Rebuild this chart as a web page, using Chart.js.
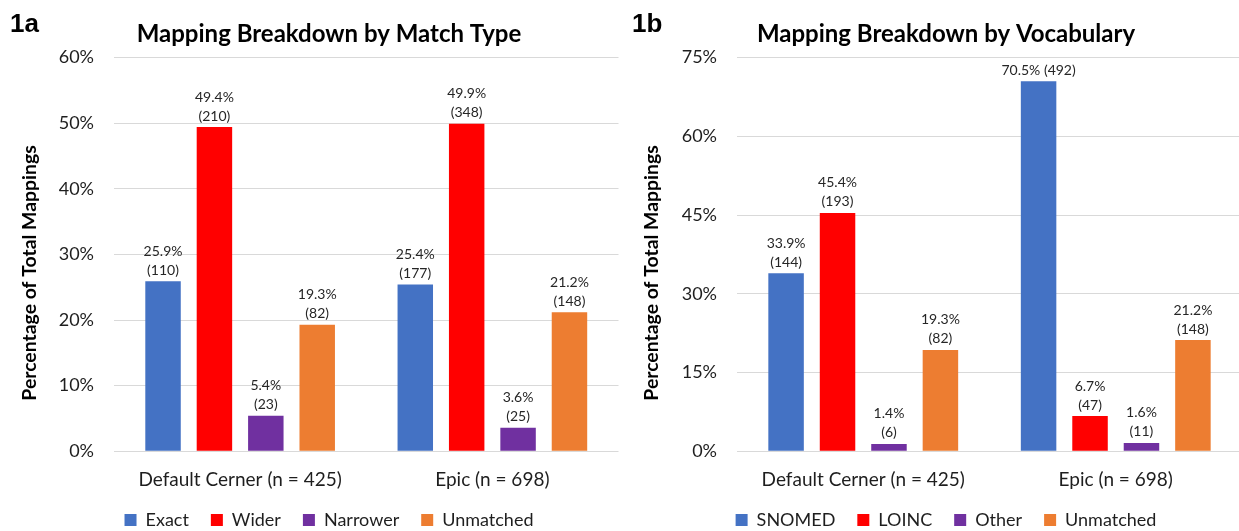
<!DOCTYPE html>
<html>
<head>
<meta charset="utf-8">
<script src="https://cdn.jsdelivr.net/npm/chart.js@4"></script>
<style>
  html, body { margin: 0; padding: 0; background: #fff; }
  body { width: 1239px; height: 531px; overflow: hidden; position: relative; }
  .panel { position: absolute; top: 0; }
  .tag { position: absolute; font-family: "Liberation Sans", Arial, sans-serif; font-weight: bold;
         font-size: 26px; line-height: 26px; color: #000; }
</style>
</head>
<body>
<div class="panel" style="left:0px;"><canvas id="cA" width="620" height="531"></canvas></div>
<div class="panel" style="left:620px;"><canvas id="cB" width="623" height="531"></canvas></div>
<div class="tag" style="left:10px; top:10px;">1a</div>
<div class="tag" style="left:632px; top:10px;">1b</div>
<script>
// ---------------- DATA ----------------
const categories = ['Default Cerner (n = 425)', 'Epic (n = 698)'];

// 1a: Mapping breakdown by match type
const titleA = 'Mapping Breakdown by Match Type';
const seriesA = ['Exact', 'Wider', 'Narrower', 'Unmatched'];
const exactPct = [25.9, 25.4];
const exactN = [110, 177];
const widerPct = [49.4, 49.9];
const widerN = [210, 348];
const narrowerPct = [5.4, 3.6];
const narrowerN = [23, 25];
const unmatchedAPct = [19.3, 21.2];
const unmatchedAN = [82, 148];
const yTicksA = ['0%', '10%', '20%', '30%', '40%', '50%', '60%'];

// 1b: Mapping breakdown by vocabulary
const titleB = 'Mapping Breakdown by Vocabulary';
const seriesB = ['SNOMED', 'LOINC', 'Other', 'Unmatched'];
const snomedPct = [33.9, 70.5];
const snomedN = [144, 492];
const loincPct = [45.4, 6.7];
const loincN = [193, 47];
const otherPct = [1.4, 1.6];
const otherN = [6, 11];
const unmatchedBPct = [19.3, 21.2];
const unmatchedBN = [82, 148];
const yTicksB = ['0%', '15%', '30%', '45%', '60%', '75%'];

const yTitle = 'Percentage of Total Mappings';

// ---------------- STYLE ----------------
const COLORS = ['#4472C4', '#FF0000', '#7030A0', '#ED7D31'];
const TEXT = '#1e1e1e';
const GRID = '#d9d9d9';
const FONT = 'Lato, "Open Sans", sans-serif';
Chart.defaults.font.family = FONT;
Chart.defaults.color = TEXT;

const barLabels = {
  id: 'barLabels',
  afterDatasetsDraw(chart) {
    const ctx = chart.ctx;
    ctx.save();
    ctx.font = '14px ' + FONT;
    ctx.fillStyle = '#262626';
    ctx.textAlign = 'center';
    ctx.textBaseline = 'middle';
    chart.data.datasets.forEach((ds, di) => {
      const meta = chart.getDatasetMeta(di);
      meta.data.forEach((bar, i) => {
        const pct = ds.data[i].toFixed(1) + '%';
        const cnt = '(' + ds.counts[i] + ')';
        if (bar.y - 30 - 9 < chart.chartArea.top) {
          ctx.fillText(pct + ' ' + cnt, bar.x, bar.y - 11);
        } else {
          ctx.fillText(pct, bar.x, bar.y - 30);
          ctx.fillText(cnt, bar.x, bar.y - 11);
        }
      });
    });
    ctx.restore();
  }
};

// vertical axis title, placed like the original (slightly below the plot centre)
const axisTitle = {
  id: 'axisTitle',
  afterDraw(chart, args, opts) {
    const ctx = chart.ctx;
    ctx.save();
    ctx.translate(opts.x, opts.y);
    ctx.rotate(-Math.PI / 2);
    ctx.font = 'bold 19.4px ' + FONT;
    ctx.fillStyle = '#000';
    ctx.textAlign = 'center';
    ctx.textBaseline = 'middle';
    ctx.fillText(opts.text, 0, 0);
    ctx.restore();
  }
};

const shiftBoxes = {
  id: 'shiftBoxes',
  afterLayout(chart, args, opts) {
    const c = opts.center;
    [chart.titleBlock, chart.legend].forEach(b => {
      if (!b) return;
      const dx = c - (b.left + b.right) / 2;
      b.left += dx; b.right += dx;
    });
  }
};

function makeChart(id, title, series, pcts, counts, ticks, yMax, yStep, cfg) {
  const datasets = series.map((s, k) => ({
    label: s,
    data: pcts[k],
    counts: counts[k],
    backgroundColor: COLORS[k],
    borderWidth: 0,
    categoryPercentage: 0.815,
    barPercentage: 0.69
  }));
  return new Chart(document.getElementById(id), {
    type: 'bar',
    data: { labels: categories, datasets },
    plugins: [barLabels, shiftBoxes, axisTitle],
    options: {
      responsive: false,
      animation: false,
      layout: { padding: { left: cfg.padL, right: cfg.padR, top: 0, bottom: 0 } },
      plugins: {
        shiftBoxes: { center: cfg.center },
        axisTitle: { text: yTitle, x: cfg.titleX, y: cfg.titleY },
        tooltip: { enabled: false },
        title: {
          display: true, text: title, color: '#000',
          font: { size: 24, weight: 'bold', lineHeight: 1.2 },
          padding: { top: 19.6, bottom: 9.1 }
        },
        legend: {
          position: 'bottom',
          maxHeight: 42,
          labels: {
            boxWidth: 12, boxHeight: 12, padding: 22,
            color: TEXT, font: { size: 18 }
          }
        }
      },
      scales: {
        x: {
          grid: { display: false, drawTicks: false },
          border: { display: false },
          ticks: { padding: 17, font: { size: 19 }, color: TEXT },
          afterFit: s => { s.height = 37.7; }
        },
        y: {
          min: 0, max: yMax,
          ticks: { stepSize: yStep, padding: 20, font: { size: 18 }, color: TEXT,
                   callback: (v, i) => ticks[i] },
          grid: { color: GRID, lineWidth: 1, drawTicks: false },
          border: { display: false },
          afterFit: s => { s.width = cfg.yWidth; }
        }
      }
    }
  });
}

makeChart('cA', titleA, seriesA,
  [exactPct, widerPct, narrowerPct, unmatchedAPct],
  [exactN, widerN, narrowerN, unmatchedAN],
  yTicksA, 60, 10,
  { padL: 15.4, padR: 1.5, yWidth: 98.6, center: 329, titleX: 30, titleY: 273 });

makeChart('cB', titleB, seriesB,
  [snomedPct, loincPct, otherPct, unmatchedBPct],
  [snomedN, loincN, otherN, unmatchedBN],
  yTicksB, 75, 15,
  { padL: 17.4, padR: 1, yWidth: 99.6, center: 946 - 620, titleX: 32, titleY: 273 });
</script>
</body>
</html>
